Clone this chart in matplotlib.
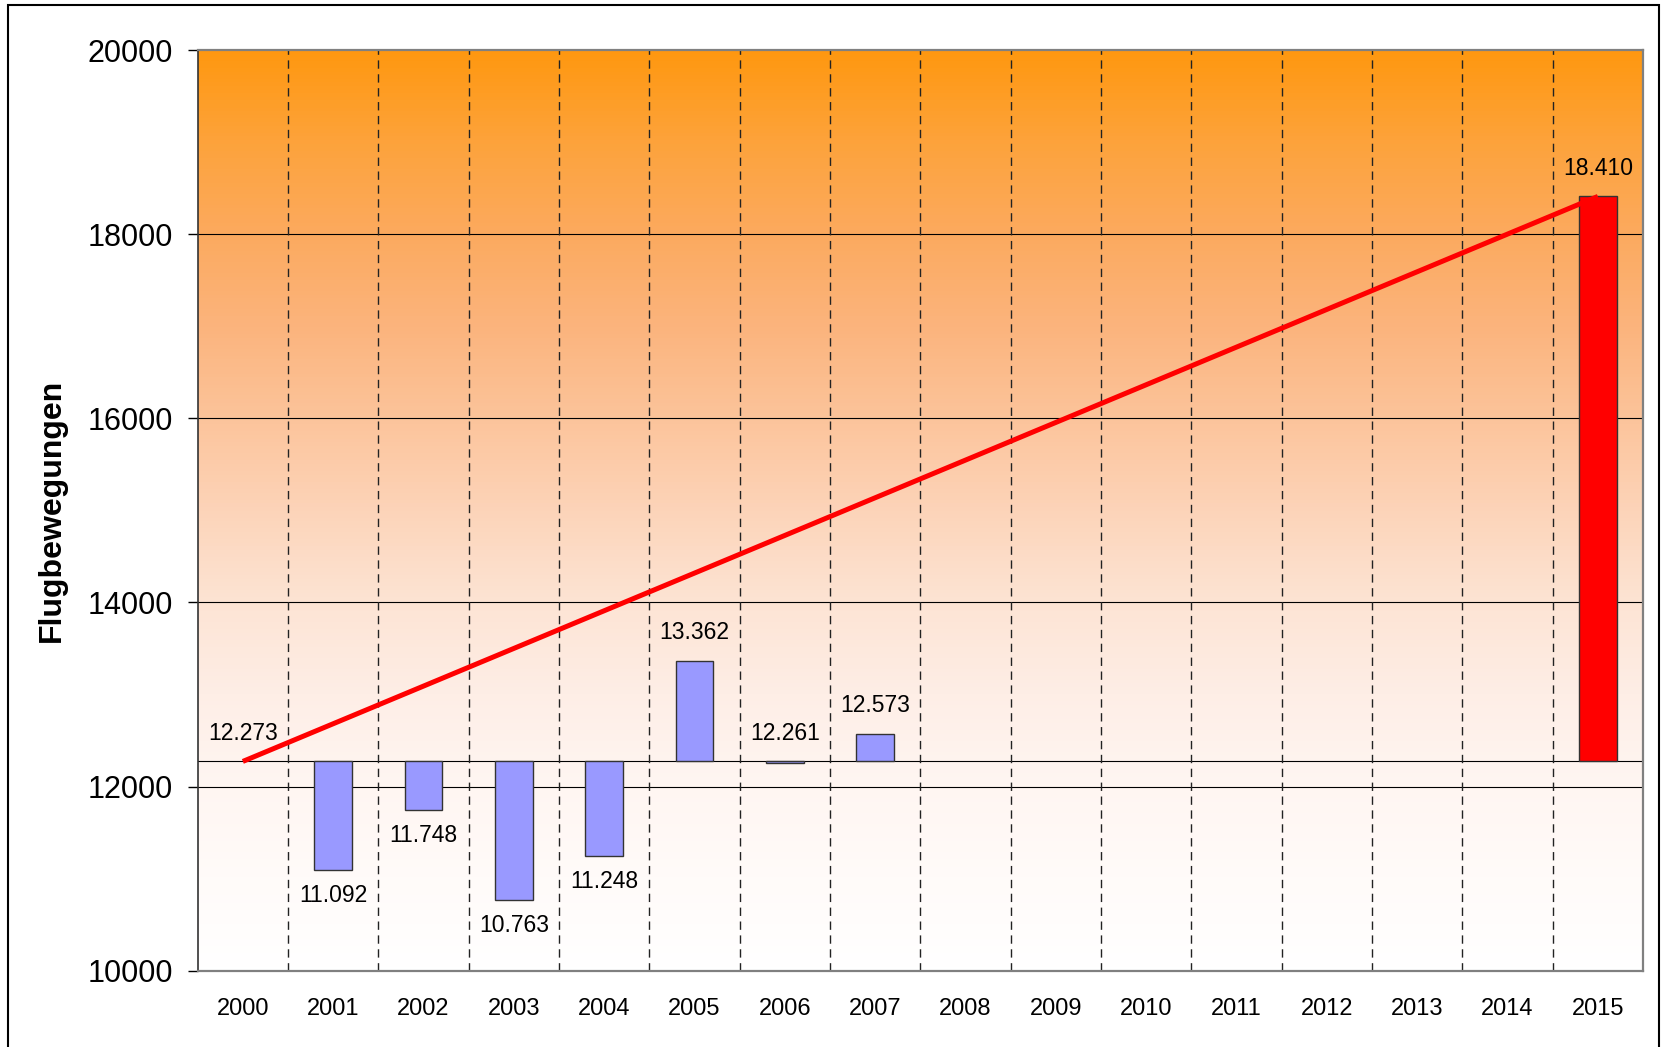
import matplotlib
matplotlib.use("Agg")
import matplotlib.pyplot as plt
import numpy as np
from matplotlib.colors import LinearSegmentedColormap
from matplotlib.patches import Rectangle

plt.rcParams['font.family'] = ['Liberation Sans', 'DejaVu Sans']

years = [str(y) for y in range(2000, 2016)]
# Flugbewegungen per year (None = no data)
movements = [12273, 11092, 11748, 10763, 11248, 13362, 12261, 12573,
             None, None, None, None, None, None, None, 18410]
baseline = 12273
forecast_year = "2015"
yticks = [10000, 12000, 14000, 16000, 18000, 20000]

fig = plt.figure(figsize=(16.64, 10.47), dpi=100)
ax = fig.add_axes([0.1188, 0.0729, 0.8686, 0.8793])

# orange-to-white background gradient
bg = LinearSegmentedColormap.from_list("bg", [
    (1.00, 1.00, 1.00), (1.00, 0.984, 0.976), (1.00, 0.965, 0.949),
    (0.996, 0.933, 0.902), (0.992, 0.894, 0.831), (0.992, 0.831, 0.725),
    (0.988, 0.769, 0.608), (0.988, 0.706, 0.490), (0.988, 0.667, 0.373),
    (0.992, 0.639, 0.235), (1.00, 0.596, 0.063)])
ax.imshow(np.linspace(0, 1, 256).reshape(-1, 1), cmap=bg, origin="lower",
          extent=(-0.5, len(years) - 0.5, yticks[0], yticks[-1]),
          aspect="auto", zorder=0)

# grid
for y in yticks[1:-1]:
    ax.axhline(y, color="black", lw=0.8, zorder=1)
ax.axhline(baseline, color="black", lw=0.8, zorder=1)
for i in range(len(years) - 1):
    ax.axvline(i + 0.5, color="#222222", lw=1.0, dashes=(6, 4), zorder=1)

# floating bars from the 2000 level
x = np.arange(len(years))
for i, v in enumerate(movements):
    if v is None or v == baseline:
        continue
    col = "#ff0000" if years[i] == forecast_year else "#9999ff"
    ax.bar(x[i], v - baseline, bottom=baseline, width=0.42, color=col,
           edgecolor="#333333", lw=1.0, zorder=2)

# data labels
for i, v in enumerate(movements):
    if v is None:
        continue
    txt = f"{v:,}".replace(",", ".")
    if v >= baseline - 50:
        ax.annotate(txt, (x[i], max(v, baseline)), xytext=(0, 12),
                    textcoords="offset points", ha="center", va="bottom",
                    fontsize=16.5, zorder=4)
    else:
        ax.annotate(txt, (x[i], v), xytext=(0, -10),
                    textcoords="offset points", ha="center", va="top",
                    fontsize=16.5, zorder=4)

# trend line 2000 -> 2015
i_end = years.index(forecast_year)
ax.plot([x[0], x[i_end]], [movements[0], movements[i_end]], color="#ff0000",
        lw=3.6, solid_capstyle="butt", zorder=3)

ax.set_xlim(-0.5, len(years) - 0.5)
ax.set_ylim(yticks[0], yticks[-1])
ax.set_xticks(x)
ax.set_xticklabels(years, fontsize=17)
ax.set_yticks(yticks)
ax.set_yticklabels([str(t) for t in yticks], fontsize=22)
ax.tick_params(axis="x", length=0, pad=20)
ax.tick_params(axis="y", length=7, width=1, direction="out", pad=11)

for s in ["top", "right", "bottom"]:
    ax.spines[s].set_color("#808080")
    ax.spines[s].set_linewidth(1.6)
ax.spines["left"].set_color("#333333")
ax.spines["left"].set_linewidth(1.2)

ax.set_ylabel("Flugbewegungen", fontsize=23, fontweight="bold")
ax.yaxis.set_label_coords(-0.0905, 0.5)

# outer chart border
fig.patches.append(Rectangle((8 / 1664, -0.05), (1659 - 8) / 1664, 1.05 - 5 / 1047,
                             transform=fig.transFigure, fill=False,
                             edgecolor="black", lw=1.5))

fig.savefig("out.png", dpi=100)
